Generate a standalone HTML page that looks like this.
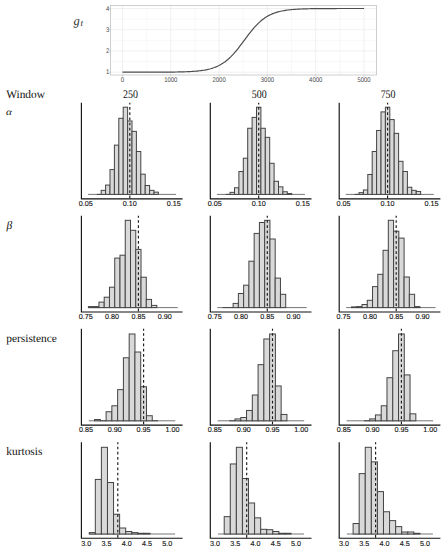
<!DOCTYPE html>
<html><head><meta charset="utf-8"><style>
html,body{margin:0;padding:0;background:#fff;}
body{width:446px;height:550px;overflow:hidden;}
svg{display:block;}
</style></head><body>
<svg width="446" height="550" viewBox="0 0 446 550" text-rendering="geometricPrecision">
<rect width="446" height="550" fill="#fff"/>
<rect x="110.5" y="5.5" width="266.0" height="69.5" fill="#fff"/>
<line x1="146.65" y1="5.5" x2="146.65" y2="75.0" stroke="#f0f0f0" stroke-width="0.5"/>
<line x1="194.95" y1="5.5" x2="194.95" y2="75.0" stroke="#f0f0f0" stroke-width="0.5"/>
<line x1="243.25" y1="5.5" x2="243.25" y2="75.0" stroke="#f0f0f0" stroke-width="0.5"/>
<line x1="291.55" y1="5.5" x2="291.55" y2="75.0" stroke="#f0f0f0" stroke-width="0.5"/>
<line x1="339.85" y1="5.5" x2="339.85" y2="75.0" stroke="#f0f0f0" stroke-width="0.5"/>
<line x1="110.5" y1="61.58" x2="376.5" y2="61.58" stroke="#f0f0f0" stroke-width="0.5"/>
<line x1="110.5" y1="40.35" x2="376.5" y2="40.35" stroke="#f0f0f0" stroke-width="0.5"/>
<line x1="110.5" y1="19.12" x2="376.5" y2="19.12" stroke="#f0f0f0" stroke-width="0.5"/>
<line x1="122.50" y1="5.5" x2="122.50" y2="75.0" stroke="#e6e6e6" stroke-width="0.6"/>
<line x1="170.80" y1="5.5" x2="170.80" y2="75.0" stroke="#e6e6e6" stroke-width="0.6"/>
<line x1="219.10" y1="5.5" x2="219.10" y2="75.0" stroke="#e6e6e6" stroke-width="0.6"/>
<line x1="267.40" y1="5.5" x2="267.40" y2="75.0" stroke="#e6e6e6" stroke-width="0.6"/>
<line x1="315.70" y1="5.5" x2="315.70" y2="75.0" stroke="#e6e6e6" stroke-width="0.6"/>
<line x1="364.00" y1="5.5" x2="364.00" y2="75.0" stroke="#e6e6e6" stroke-width="0.6"/>
<line x1="110.5" y1="72.20" x2="376.5" y2="72.20" stroke="#e6e6e6" stroke-width="0.6"/>
<line x1="110.5" y1="50.97" x2="376.5" y2="50.97" stroke="#e6e6e6" stroke-width="0.6"/>
<line x1="110.5" y1="29.73" x2="376.5" y2="29.73" stroke="#e6e6e6" stroke-width="0.6"/>
<line x1="110.5" y1="8.50" x2="376.5" y2="8.50" stroke="#e6e6e6" stroke-width="0.6"/>
<polyline points="122.50,72.20 123.71,72.20 124.92,72.20 126.12,72.20 127.33,72.20 128.54,72.20 129.75,72.20 130.95,72.20 132.16,72.20 133.37,72.19 134.57,72.19 135.78,72.19 136.99,72.19 138.20,72.19 139.41,72.19 140.61,72.19 141.82,72.19 143.03,72.19 144.24,72.19 145.44,72.19 146.65,72.18 147.86,72.18 149.06,72.18 150.27,72.18 151.48,72.18 152.69,72.17 153.90,72.17 155.10,72.17 156.31,72.16 157.52,72.16 158.72,72.16 159.93,72.15 161.14,72.14 162.35,72.14 163.56,72.13 164.76,72.13 165.97,72.12 167.18,72.11 168.38,72.10 169.59,72.09 170.80,72.08 172.01,72.06 173.22,72.05 174.42,72.03 175.63,72.01 176.84,71.99 178.05,71.97 179.25,71.94 180.46,71.92 181.67,71.89 182.88,71.85 184.08,71.82 185.29,71.77 186.50,71.73 187.70,71.68 188.91,71.62 190.12,71.56 191.33,71.49 192.53,71.42 193.74,71.33 194.95,71.24 196.16,71.14 197.37,71.03 198.57,70.90 199.78,70.77 200.99,70.62 202.19,70.45 203.40,70.27 204.61,70.07 205.82,69.84 207.03,69.60 208.23,69.33 209.44,69.04 210.65,68.72 211.86,68.36 213.06,67.97 214.27,67.55 215.48,67.09 216.69,66.59 217.89,66.04 219.10,65.45 220.31,64.80 221.51,64.10 222.72,63.35 223.93,62.54 225.14,61.67 226.34,60.74 227.55,59.75 228.76,58.69 229.97,57.56 231.18,56.37 232.38,55.12 233.59,53.81 234.80,52.44 236.00,51.02 237.21,49.55 238.42,48.03 239.63,46.48 240.83,44.89 242.04,43.28 243.25,41.66 244.46,40.02 245.67,38.39 246.87,36.77 248.08,35.17 249.29,33.60 250.50,32.06 251.70,30.56 252.91,29.10 254.12,27.70 255.32,26.35 256.53,25.07 257.74,23.84 258.95,22.68 260.15,21.58 261.36,20.55 262.57,19.58 263.78,18.67 264.99,17.83 266.19,17.04 267.40,16.31 268.61,15.63 269.81,15.01 271.02,14.44 272.23,13.91 273.44,13.42 274.64,12.97 275.85,12.57 277.06,12.19 278.27,11.85 279.48,11.54 280.68,11.26 281.89,11.00 283.10,10.76 284.31,10.55 285.51,10.36 286.72,10.18 287.93,10.02 289.13,9.88 290.34,9.74 291.55,9.63 292.76,9.52 293.97,9.42 295.17,9.33 296.38,9.25 297.59,9.18 298.79,9.11 300.00,9.05 301.21,9.00 302.42,8.95 303.62,8.91 304.83,8.87 306.04,8.83 307.25,8.80 308.46,8.77 309.66,8.75 310.87,8.72 312.08,8.70 313.28,8.68 314.49,8.66 315.70,8.65 316.91,8.63 318.12,8.62 319.32,8.61 320.53,8.60 321.74,8.59 322.94,8.58 324.15,8.57 325.36,8.56 326.57,8.56 327.77,8.55 328.98,8.55 330.19,8.54 331.40,8.54 332.61,8.54 333.81,8.53 335.02,8.53 336.23,8.53 337.44,8.52 338.64,8.52 339.85,8.52 341.06,8.52 342.26,8.52 343.47,8.51 344.68,8.51 345.89,8.51 347.10,8.51 348.30,8.51 349.51,8.51 350.72,8.51 351.93,8.51 353.13,8.51 354.34,8.51 355.55,8.51 356.75,8.50 357.96,8.50 359.17,8.50 360.38,8.50 361.59,8.50 362.79,8.50 364.00,8.50" fill="none" stroke="#4d4d4d" stroke-width="1.2"/>
<rect x="110.5" y="5.5" width="266.0" height="69.5" fill="none" stroke="#c2c2c2" stroke-width="0.8"/>
<line x1="109.0" y1="72.20" x2="110.5" y2="72.20" stroke="#b3b3b3" stroke-width="0.6"/>
<text x="109.2" y="74.20" font-family='"Liberation Sans", sans-serif' font-size="6.8" fill="#4d4d4d" text-anchor="end" textLength="3.3" lengthAdjust="spacingAndGlyphs">1</text>
<line x1="109.0" y1="50.97" x2="110.5" y2="50.97" stroke="#b3b3b3" stroke-width="0.6"/>
<text x="109.2" y="52.97" font-family='"Liberation Sans", sans-serif' font-size="6.8" fill="#4d4d4d" text-anchor="end" textLength="3.3" lengthAdjust="spacingAndGlyphs">2</text>
<line x1="109.0" y1="29.73" x2="110.5" y2="29.73" stroke="#b3b3b3" stroke-width="0.6"/>
<text x="109.2" y="31.73" font-family='"Liberation Sans", sans-serif' font-size="6.8" fill="#4d4d4d" text-anchor="end" textLength="3.3" lengthAdjust="spacingAndGlyphs">3</text>
<line x1="109.0" y1="8.50" x2="110.5" y2="8.50" stroke="#b3b3b3" stroke-width="0.6"/>
<text x="109.2" y="10.50" font-family='"Liberation Sans", sans-serif' font-size="6.8" fill="#4d4d4d" text-anchor="end" textLength="3.3" lengthAdjust="spacingAndGlyphs">4</text>
<line x1="122.50" y1="75.0" x2="122.50" y2="76.5" stroke="#b3b3b3" stroke-width="0.6"/>
<text x="122.50" y="81.8" font-family='"Liberation Sans", sans-serif' font-size="6.8" fill="#4d4d4d" text-anchor="middle" textLength="3.30" lengthAdjust="spacingAndGlyphs">0</text>
<line x1="170.80" y1="75.0" x2="170.80" y2="76.5" stroke="#b3b3b3" stroke-width="0.6"/>
<text x="170.80" y="81.8" font-family='"Liberation Sans", sans-serif' font-size="6.8" fill="#4d4d4d" text-anchor="middle" textLength="13.20" lengthAdjust="spacingAndGlyphs">1000</text>
<line x1="219.10" y1="75.0" x2="219.10" y2="76.5" stroke="#b3b3b3" stroke-width="0.6"/>
<text x="219.10" y="81.8" font-family='"Liberation Sans", sans-serif' font-size="6.8" fill="#4d4d4d" text-anchor="middle" textLength="13.20" lengthAdjust="spacingAndGlyphs">2000</text>
<line x1="267.40" y1="75.0" x2="267.40" y2="76.5" stroke="#b3b3b3" stroke-width="0.6"/>
<text x="267.40" y="81.8" font-family='"Liberation Sans", sans-serif' font-size="6.8" fill="#4d4d4d" text-anchor="middle" textLength="13.20" lengthAdjust="spacingAndGlyphs">3000</text>
<line x1="315.70" y1="75.0" x2="315.70" y2="76.5" stroke="#b3b3b3" stroke-width="0.6"/>
<text x="315.70" y="81.8" font-family='"Liberation Sans", sans-serif' font-size="6.8" fill="#4d4d4d" text-anchor="middle" textLength="13.20" lengthAdjust="spacingAndGlyphs">4000</text>
<line x1="364.00" y1="75.0" x2="364.00" y2="76.5" stroke="#b3b3b3" stroke-width="0.6"/>
<text x="364.00" y="81.8" font-family='"Liberation Sans", sans-serif' font-size="6.8" fill="#4d4d4d" text-anchor="middle" textLength="13.20" lengthAdjust="spacingAndGlyphs">5000</text>
<text x="73.6" y="24.8" font-family='"Liberation Serif", serif' font-style="italic" font-size="12.5" fill="#333">g</text>
<text x="80.5" y="26.3" font-family='"Liberation Serif", serif' font-style="italic" font-size="9.2" fill="#333">t</text>
<text x="6.2" y="98" font-family='"Liberation Serif", serif' font-size="11.4" fill="#111">Window</text>
<text x="123.05" y="98.3" font-family='"Liberation Serif", serif' font-size="11.6" fill="#111" textLength="14.9" lengthAdjust="spacingAndGlyphs">250</text>
<text x="251.85" y="98.3" font-family='"Liberation Serif", serif' font-size="11.6" fill="#111" textLength="14.9" lengthAdjust="spacingAndGlyphs">500</text>
<text x="380.65" y="98.3" font-family='"Liberation Serif", serif' font-size="11.6" fill="#111" textLength="14.9" lengthAdjust="spacingAndGlyphs">750</text>
<text x="6.0" y="114.8" font-family='"Liberation Serif", serif' font-style="italic" font-size="9.4" fill="#111" textLength="5.9" lengthAdjust="spacingAndGlyphs">α</text>
<text x="6.4" y="228.6" font-family='"Liberation Serif", serif' font-style="italic" font-size="11.5" fill="#111">β</text>
<text x="6.3" y="341.5" font-family='"Liberation Serif", serif' font-size="11.4" fill="#111">persistence</text>
<text x="6.3" y="454.9" font-family='"Liberation Serif", serif' font-size="11.4" fill="#111">kurtosis</text>
<line x1="88.00" y1="194.40" x2="176.00" y2="194.40" stroke="#666" stroke-width="0.9"/>
<line x1="96.80" y1="194.40" x2="101.20" y2="194.40" stroke="#444" stroke-width="1"/>
<rect x="101.20" y="190.36" width="4.40" height="4.04" fill="#d9d9d9" stroke="#444" stroke-width="1.0"/>
<rect x="105.60" y="185.07" width="4.40" height="9.33" fill="#d9d9d9" stroke="#444" stroke-width="1.0"/>
<rect x="110.00" y="169.59" width="4.40" height="24.81" fill="#d9d9d9" stroke="#444" stroke-width="1.0"/>
<rect x="114.40" y="145.13" width="4.40" height="49.27" fill="#d9d9d9" stroke="#444" stroke-width="1.0"/>
<rect x="118.80" y="118.28" width="4.40" height="76.12" fill="#d9d9d9" stroke="#444" stroke-width="1.0"/>
<rect x="123.20" y="107.20" width="4.40" height="87.20" fill="#d9d9d9" stroke="#444" stroke-width="1.0"/>
<rect x="127.60" y="120.98" width="4.40" height="73.42" fill="#d9d9d9" stroke="#444" stroke-width="1.0"/>
<rect x="132.00" y="131.36" width="4.40" height="63.04" fill="#d9d9d9" stroke="#444" stroke-width="1.0"/>
<rect x="136.40" y="151.52" width="4.40" height="42.88" fill="#d9d9d9" stroke="#444" stroke-width="1.0"/>
<rect x="140.80" y="174.18" width="4.40" height="20.22" fill="#d9d9d9" stroke="#444" stroke-width="1.0"/>
<rect x="145.20" y="185.47" width="4.40" height="8.93" fill="#d9d9d9" stroke="#444" stroke-width="1.0"/>
<rect x="149.60" y="190.36" width="4.40" height="4.04" fill="#d9d9d9" stroke="#444" stroke-width="1.0"/>
<rect x="154.00" y="192.15" width="4.40" height="2.25" fill="#d9d9d9" stroke="#444" stroke-width="1.0"/>
<line x1="129.80" y1="102.70" x2="129.80" y2="198.90" stroke="#1a1a1a" stroke-width="1.15" stroke-dasharray="2.7 2.5" stroke-dashoffset="0.85"/>
<polyline points="81.40,102.70 81.40,198.90 182.60,198.90" fill="none" stroke="#111" stroke-width="1.15"/>
<text x="85.80" y="206" font-family='"Liberation Sans", sans-serif' font-size="7.2" fill="#111" stroke="#111" stroke-width="0.12" text-anchor="middle">0.05</text>
<text x="129.80" y="206" font-family='"Liberation Sans", sans-serif' font-size="7.2" fill="#111" stroke="#111" stroke-width="0.12" text-anchor="middle">0.10</text>
<text x="173.80" y="206" font-family='"Liberation Sans", sans-serif' font-size="7.2" fill="#111" stroke="#111" stroke-width="0.12" text-anchor="middle">0.15</text>
<line x1="216.90" y1="194.40" x2="304.90" y2="194.40" stroke="#666" stroke-width="0.9"/>
<line x1="225.70" y1="194.40" x2="230.10" y2="194.40" stroke="#444" stroke-width="1"/>
<rect x="230.10" y="192.35" width="4.40" height="2.05" fill="#d9d9d9" stroke="#444" stroke-width="1.0"/>
<rect x="234.50" y="187.76" width="4.40" height="6.64" fill="#d9d9d9" stroke="#444" stroke-width="1.0"/>
<rect x="238.90" y="171.49" width="4.40" height="22.91" fill="#d9d9d9" stroke="#444" stroke-width="1.0"/>
<rect x="243.30" y="158.21" width="4.40" height="36.19" fill="#d9d9d9" stroke="#444" stroke-width="1.0"/>
<rect x="247.70" y="128.26" width="4.40" height="66.14" fill="#d9d9d9" stroke="#444" stroke-width="1.0"/>
<rect x="252.10" y="117.38" width="4.40" height="77.02" fill="#d9d9d9" stroke="#444" stroke-width="1.0"/>
<rect x="256.50" y="107.20" width="4.40" height="87.20" fill="#d9d9d9" stroke="#444" stroke-width="1.0"/>
<rect x="260.90" y="128.26" width="4.40" height="66.14" fill="#d9d9d9" stroke="#444" stroke-width="1.0"/>
<rect x="265.30" y="137.35" width="4.40" height="57.05" fill="#d9d9d9" stroke="#444" stroke-width="1.0"/>
<rect x="269.70" y="163.30" width="4.40" height="31.10" fill="#d9d9d9" stroke="#444" stroke-width="1.0"/>
<rect x="274.10" y="181.27" width="4.40" height="13.13" fill="#d9d9d9" stroke="#444" stroke-width="1.0"/>
<rect x="278.50" y="186.86" width="4.40" height="7.54" fill="#d9d9d9" stroke="#444" stroke-width="1.0"/>
<rect x="282.90" y="191.75" width="4.40" height="2.65" fill="#d9d9d9" stroke="#444" stroke-width="1.0"/>
<rect x="287.30" y="193.55" width="4.40" height="0.85" fill="#d9d9d9" stroke="#444" stroke-width="1.0"/>
<line x1="258.70" y1="102.70" x2="258.70" y2="198.90" stroke="#1a1a1a" stroke-width="1.15" stroke-dasharray="2.7 2.5" stroke-dashoffset="0.85"/>
<polyline points="210.30,102.70 210.30,198.90 311.50,198.90" fill="none" stroke="#111" stroke-width="1.15"/>
<text x="214.70" y="206" font-family='"Liberation Sans", sans-serif' font-size="7.2" fill="#111" stroke="#111" stroke-width="0.12" text-anchor="middle">0.05</text>
<text x="258.70" y="206" font-family='"Liberation Sans", sans-serif' font-size="7.2" fill="#111" stroke="#111" stroke-width="0.12" text-anchor="middle">0.10</text>
<text x="302.70" y="206" font-family='"Liberation Sans", sans-serif' font-size="7.2" fill="#111" stroke="#111" stroke-width="0.12" text-anchor="middle">0.15</text>
<line x1="345.80" y1="194.40" x2="433.80" y2="194.40" stroke="#666" stroke-width="0.9"/>
<line x1="354.60" y1="194.40" x2="359.00" y2="194.40" stroke="#444" stroke-width="1"/>
<rect x="359.00" y="192.65" width="4.40" height="1.75" fill="#d9d9d9" stroke="#444" stroke-width="1.0"/>
<rect x="363.40" y="189.96" width="4.40" height="4.44" fill="#d9d9d9" stroke="#444" stroke-width="1.0"/>
<rect x="367.80" y="174.48" width="4.40" height="19.92" fill="#d9d9d9" stroke="#444" stroke-width="1.0"/>
<rect x="372.20" y="151.52" width="4.40" height="42.88" fill="#d9d9d9" stroke="#444" stroke-width="1.0"/>
<rect x="376.60" y="130.46" width="4.40" height="63.94" fill="#d9d9d9" stroke="#444" stroke-width="1.0"/>
<rect x="381.00" y="111.89" width="4.40" height="82.51" fill="#d9d9d9" stroke="#444" stroke-width="1.0"/>
<rect x="385.40" y="107.20" width="4.40" height="87.20" fill="#d9d9d9" stroke="#444" stroke-width="1.0"/>
<rect x="389.80" y="119.58" width="4.40" height="74.82" fill="#d9d9d9" stroke="#444" stroke-width="1.0"/>
<rect x="394.20" y="133.36" width="4.40" height="61.04" fill="#d9d9d9" stroke="#444" stroke-width="1.0"/>
<rect x="398.60" y="161.31" width="4.40" height="33.09" fill="#d9d9d9" stroke="#444" stroke-width="1.0"/>
<rect x="403.00" y="171.49" width="4.40" height="22.91" fill="#d9d9d9" stroke="#444" stroke-width="1.0"/>
<rect x="407.40" y="187.26" width="4.40" height="7.14" fill="#d9d9d9" stroke="#444" stroke-width="1.0"/>
<rect x="411.80" y="190.36" width="4.40" height="4.04" fill="#d9d9d9" stroke="#444" stroke-width="1.0"/>
<rect x="416.20" y="191.46" width="4.40" height="2.94" fill="#d9d9d9" stroke="#444" stroke-width="1.0"/>
<line x1="387.60" y1="102.70" x2="387.60" y2="198.90" stroke="#1a1a1a" stroke-width="1.15" stroke-dasharray="2.7 2.5" stroke-dashoffset="0.85"/>
<polyline points="339.20,102.70 339.20,198.90 440.40,198.90" fill="none" stroke="#111" stroke-width="1.15"/>
<text x="343.60" y="206" font-family='"Liberation Sans", sans-serif' font-size="7.2" fill="#111" stroke="#111" stroke-width="0.12" text-anchor="middle">0.05</text>
<text x="387.60" y="206" font-family='"Liberation Sans", sans-serif' font-size="7.2" fill="#111" stroke="#111" stroke-width="0.12" text-anchor="middle">0.10</text>
<text x="431.60" y="206" font-family='"Liberation Sans", sans-serif' font-size="7.2" fill="#111" stroke="#111" stroke-width="0.12" text-anchor="middle">0.15</text>
<line x1="88.40" y1="307.60" x2="177.80" y2="307.60" stroke="#666" stroke-width="0.9"/>
<rect x="88.43" y="306.60" width="5.26" height="1.00" fill="#d9d9d9" stroke="#444" stroke-width="1.0"/>
<rect x="93.69" y="306.60" width="5.26" height="1.00" fill="#d9d9d9" stroke="#444" stroke-width="1.0"/>
<rect x="98.95" y="302.10" width="5.26" height="5.50" fill="#d9d9d9" stroke="#444" stroke-width="1.0"/>
<rect x="104.21" y="297.20" width="5.26" height="10.40" fill="#d9d9d9" stroke="#444" stroke-width="1.0"/>
<rect x="109.47" y="287.20" width="5.26" height="20.40" fill="#d9d9d9" stroke="#444" stroke-width="1.0"/>
<rect x="114.73" y="258.10" width="5.26" height="49.50" fill="#d9d9d9" stroke="#444" stroke-width="1.0"/>
<rect x="119.99" y="255.20" width="5.26" height="52.40" fill="#d9d9d9" stroke="#444" stroke-width="1.0"/>
<rect x="125.25" y="220.30" width="5.26" height="87.30" fill="#d9d9d9" stroke="#444" stroke-width="1.0"/>
<rect x="130.51" y="230.30" width="5.26" height="77.30" fill="#d9d9d9" stroke="#444" stroke-width="1.0"/>
<rect x="135.77" y="249.40" width="5.26" height="58.20" fill="#d9d9d9" stroke="#444" stroke-width="1.0"/>
<rect x="141.03" y="277.20" width="5.26" height="30.40" fill="#d9d9d9" stroke="#444" stroke-width="1.0"/>
<rect x="146.29" y="299.40" width="5.26" height="8.20" fill="#d9d9d9" stroke="#444" stroke-width="1.0"/>
<rect x="151.55" y="305.40" width="5.26" height="2.20" fill="#d9d9d9" stroke="#444" stroke-width="1.0"/>
<line x1="138.40" y1="215.80" x2="138.40" y2="312.00" stroke="#1a1a1a" stroke-width="1.15" stroke-dasharray="2.7 2.5" stroke-dashoffset="0.85"/>
<polyline points="81.40,215.80 81.40,312.00 182.60,312.00" fill="none" stroke="#111" stroke-width="1.15"/>
<text x="85.80" y="319" font-family='"Liberation Sans", sans-serif' font-size="7.2" fill="#111" stroke="#111" stroke-width="0.12" text-anchor="middle">0.75</text>
<text x="112.10" y="319" font-family='"Liberation Sans", sans-serif' font-size="7.2" fill="#111" stroke="#111" stroke-width="0.12" text-anchor="middle">0.80</text>
<text x="138.40" y="319" font-family='"Liberation Sans", sans-serif' font-size="7.2" fill="#111" stroke="#111" stroke-width="0.12" text-anchor="middle">0.85</text>
<text x="164.70" y="319" font-family='"Liberation Sans", sans-serif' font-size="7.2" fill="#111" stroke="#111" stroke-width="0.12" text-anchor="middle">0.90</text>
<line x1="217.30" y1="307.60" x2="306.70" y2="307.60" stroke="#666" stroke-width="0.9"/>
<line x1="222.59" y1="307.60" x2="227.85" y2="307.60" stroke="#444" stroke-width="1"/>
<line x1="227.85" y1="307.60" x2="233.11" y2="307.60" stroke="#444" stroke-width="1"/>
<rect x="233.11" y="303.40" width="5.26" height="4.20" fill="#d9d9d9" stroke="#444" stroke-width="1.0"/>
<rect x="238.37" y="293.50" width="5.26" height="14.10" fill="#d9d9d9" stroke="#444" stroke-width="1.0"/>
<rect x="243.63" y="285.20" width="5.26" height="22.40" fill="#d9d9d9" stroke="#444" stroke-width="1.0"/>
<rect x="248.89" y="261.20" width="5.26" height="46.40" fill="#d9d9d9" stroke="#444" stroke-width="1.0"/>
<rect x="254.15" y="233.40" width="5.26" height="74.20" fill="#d9d9d9" stroke="#444" stroke-width="1.0"/>
<rect x="259.41" y="222.50" width="5.26" height="85.10" fill="#d9d9d9" stroke="#444" stroke-width="1.0"/>
<rect x="264.67" y="220.30" width="5.26" height="87.30" fill="#d9d9d9" stroke="#444" stroke-width="1.0"/>
<rect x="269.93" y="239.00" width="5.26" height="68.60" fill="#d9d9d9" stroke="#444" stroke-width="1.0"/>
<rect x="275.19" y="278.10" width="5.26" height="29.50" fill="#d9d9d9" stroke="#444" stroke-width="1.0"/>
<rect x="280.45" y="294.30" width="5.26" height="13.30" fill="#d9d9d9" stroke="#444" stroke-width="1.0"/>
<line x1="267.30" y1="215.80" x2="267.30" y2="312.00" stroke="#1a1a1a" stroke-width="1.15" stroke-dasharray="2.7 2.5" stroke-dashoffset="0.85"/>
<polyline points="210.30,215.80 210.30,312.00 311.50,312.00" fill="none" stroke="#111" stroke-width="1.15"/>
<text x="214.70" y="319" font-family='"Liberation Sans", sans-serif' font-size="7.2" fill="#111" stroke="#111" stroke-width="0.12" text-anchor="middle">0.75</text>
<text x="241.00" y="319" font-family='"Liberation Sans", sans-serif' font-size="7.2" fill="#111" stroke="#111" stroke-width="0.12" text-anchor="middle">0.80</text>
<text x="267.30" y="319" font-family='"Liberation Sans", sans-serif' font-size="7.2" fill="#111" stroke="#111" stroke-width="0.12" text-anchor="middle">0.85</text>
<text x="293.60" y="319" font-family='"Liberation Sans", sans-serif' font-size="7.2" fill="#111" stroke="#111" stroke-width="0.12" text-anchor="middle">0.90</text>
<line x1="346.20" y1="307.60" x2="435.60" y2="307.60" stroke="#666" stroke-width="0.9"/>
<rect x="351.49" y="306.90" width="5.26" height="0.70" fill="#d9d9d9" stroke="#444" stroke-width="1.0"/>
<rect x="356.75" y="306.60" width="5.26" height="1.00" fill="#d9d9d9" stroke="#444" stroke-width="1.0"/>
<rect x="362.01" y="304.50" width="5.26" height="3.10" fill="#d9d9d9" stroke="#444" stroke-width="1.0"/>
<rect x="367.27" y="300.30" width="5.26" height="7.30" fill="#d9d9d9" stroke="#444" stroke-width="1.0"/>
<rect x="372.53" y="286.60" width="5.26" height="21.00" fill="#d9d9d9" stroke="#444" stroke-width="1.0"/>
<rect x="377.79" y="274.30" width="5.26" height="33.30" fill="#d9d9d9" stroke="#444" stroke-width="1.0"/>
<rect x="383.05" y="250.30" width="5.26" height="57.30" fill="#d9d9d9" stroke="#444" stroke-width="1.0"/>
<rect x="388.31" y="220.30" width="5.26" height="87.30" fill="#d9d9d9" stroke="#444" stroke-width="1.0"/>
<rect x="393.57" y="231.20" width="5.26" height="76.40" fill="#d9d9d9" stroke="#444" stroke-width="1.0"/>
<rect x="398.83" y="238.10" width="5.26" height="69.50" fill="#d9d9d9" stroke="#444" stroke-width="1.0"/>
<rect x="404.09" y="277.00" width="5.26" height="30.60" fill="#d9d9d9" stroke="#444" stroke-width="1.0"/>
<rect x="409.35" y="294.30" width="5.26" height="13.30" fill="#d9d9d9" stroke="#444" stroke-width="1.0"/>
<rect x="414.61" y="306.60" width="5.26" height="1.00" fill="#d9d9d9" stroke="#444" stroke-width="1.0"/>
<line x1="396.20" y1="215.80" x2="396.20" y2="312.00" stroke="#1a1a1a" stroke-width="1.15" stroke-dasharray="2.7 2.5" stroke-dashoffset="0.85"/>
<polyline points="339.20,215.80 339.20,312.00 440.40,312.00" fill="none" stroke="#111" stroke-width="1.15"/>
<text x="343.60" y="319" font-family='"Liberation Sans", sans-serif' font-size="7.2" fill="#111" stroke="#111" stroke-width="0.12" text-anchor="middle">0.75</text>
<text x="369.90" y="319" font-family='"Liberation Sans", sans-serif' font-size="7.2" fill="#111" stroke="#111" stroke-width="0.12" text-anchor="middle">0.80</text>
<text x="396.20" y="319" font-family='"Liberation Sans", sans-serif' font-size="7.2" fill="#111" stroke="#111" stroke-width="0.12" text-anchor="middle">0.85</text>
<text x="422.50" y="319" font-family='"Liberation Sans", sans-serif' font-size="7.2" fill="#111" stroke="#111" stroke-width="0.12" text-anchor="middle">0.90</text>
<line x1="88.80" y1="420.80" x2="175.30" y2="420.80" stroke="#666" stroke-width="0.9"/>
<rect x="94.56" y="419.51" width="5.77" height="1.29" fill="#d9d9d9" stroke="#444" stroke-width="1.0"/>
<line x1="100.33" y1="420.80" x2="106.10" y2="420.80" stroke="#444" stroke-width="1"/>
<rect x="106.10" y="411.74" width="5.77" height="9.06" fill="#d9d9d9" stroke="#444" stroke-width="1.0"/>
<rect x="111.87" y="405.77" width="5.77" height="15.03" fill="#d9d9d9" stroke="#444" stroke-width="1.0"/>
<rect x="117.64" y="389.64" width="5.77" height="31.16" fill="#d9d9d9" stroke="#444" stroke-width="1.0"/>
<rect x="123.41" y="357.79" width="5.77" height="63.01" fill="#d9d9d9" stroke="#444" stroke-width="1.0"/>
<rect x="129.18" y="334.00" width="5.77" height="86.80" fill="#d9d9d9" stroke="#444" stroke-width="1.0"/>
<rect x="134.94" y="352.02" width="5.77" height="68.78" fill="#d9d9d9" stroke="#444" stroke-width="1.0"/>
<rect x="140.72" y="386.76" width="5.77" height="34.04" fill="#d9d9d9" stroke="#444" stroke-width="1.0"/>
<rect x="146.48" y="415.72" width="5.77" height="5.08" fill="#d9d9d9" stroke="#444" stroke-width="1.0"/>
<line x1="152.25" y1="420.80" x2="158.03" y2="420.80" stroke="#444" stroke-width="1"/>
<line x1="143.60" y1="328.80" x2="143.60" y2="425.10" stroke="#1a1a1a" stroke-width="1.15" stroke-dasharray="2.7 2.5" stroke-dashoffset="0.85"/>
<polyline points="81.40,328.80 81.40,425.10 182.60,425.10" fill="none" stroke="#111" stroke-width="1.15"/>
<text x="85.90" y="432" font-family='"Liberation Sans", sans-serif' font-size="7.2" fill="#111" stroke="#111" stroke-width="0.12" text-anchor="middle">0.85</text>
<text x="114.75" y="432" font-family='"Liberation Sans", sans-serif' font-size="7.2" fill="#111" stroke="#111" stroke-width="0.12" text-anchor="middle">0.90</text>
<text x="143.60" y="432" font-family='"Liberation Sans", sans-serif' font-size="7.2" fill="#111" stroke="#111" stroke-width="0.12" text-anchor="middle">0.95</text>
<text x="172.45" y="432" font-family='"Liberation Sans", sans-serif' font-size="7.2" fill="#111" stroke="#111" stroke-width="0.12" text-anchor="middle">1.00</text>
<line x1="217.70" y1="420.80" x2="304.20" y2="420.80" stroke="#666" stroke-width="0.9"/>
<line x1="229.23" y1="420.80" x2="235.00" y2="420.80" stroke="#444" stroke-width="1"/>
<rect x="235.00" y="418.91" width="5.77" height="1.89" fill="#d9d9d9" stroke="#444" stroke-width="1.0"/>
<rect x="240.77" y="417.52" width="5.77" height="3.28" fill="#d9d9d9" stroke="#444" stroke-width="1.0"/>
<rect x="246.54" y="410.45" width="5.77" height="10.35" fill="#d9d9d9" stroke="#444" stroke-width="1.0"/>
<rect x="252.31" y="395.02" width="5.77" height="25.78" fill="#d9d9d9" stroke="#444" stroke-width="1.0"/>
<rect x="258.08" y="364.66" width="5.77" height="56.14" fill="#d9d9d9" stroke="#444" stroke-width="1.0"/>
<rect x="263.85" y="338.98" width="5.77" height="81.82" fill="#d9d9d9" stroke="#444" stroke-width="1.0"/>
<rect x="269.62" y="334.00" width="5.77" height="86.80" fill="#d9d9d9" stroke="#444" stroke-width="1.0"/>
<rect x="275.38" y="385.96" width="5.77" height="34.84" fill="#d9d9d9" stroke="#444" stroke-width="1.0"/>
<rect x="281.15" y="414.43" width="5.77" height="6.37" fill="#d9d9d9" stroke="#444" stroke-width="1.0"/>
<line x1="272.50" y1="328.80" x2="272.50" y2="425.10" stroke="#1a1a1a" stroke-width="1.15" stroke-dasharray="2.7 2.5" stroke-dashoffset="0.85"/>
<polyline points="210.30,328.80 210.30,425.10 311.50,425.10" fill="none" stroke="#111" stroke-width="1.15"/>
<text x="214.80" y="432" font-family='"Liberation Sans", sans-serif' font-size="7.2" fill="#111" stroke="#111" stroke-width="0.12" text-anchor="middle">0.85</text>
<text x="243.65" y="432" font-family='"Liberation Sans", sans-serif' font-size="7.2" fill="#111" stroke="#111" stroke-width="0.12" text-anchor="middle">0.90</text>
<text x="272.50" y="432" font-family='"Liberation Sans", sans-serif' font-size="7.2" fill="#111" stroke="#111" stroke-width="0.12" text-anchor="middle">0.95</text>
<text x="301.35" y="432" font-family='"Liberation Sans", sans-serif' font-size="7.2" fill="#111" stroke="#111" stroke-width="0.12" text-anchor="middle">1.00</text>
<line x1="346.60" y1="420.80" x2="433.10" y2="420.80" stroke="#666" stroke-width="0.9"/>
<line x1="363.90" y1="420.80" x2="369.67" y2="420.80" stroke="#444" stroke-width="1"/>
<rect x="369.67" y="418.91" width="5.77" height="1.89" fill="#d9d9d9" stroke="#444" stroke-width="1.0"/>
<rect x="375.44" y="414.93" width="5.77" height="5.87" fill="#d9d9d9" stroke="#444" stroke-width="1.0"/>
<rect x="381.21" y="405.77" width="5.77" height="15.03" fill="#d9d9d9" stroke="#444" stroke-width="1.0"/>
<rect x="386.98" y="377.70" width="5.77" height="43.10" fill="#d9d9d9" stroke="#444" stroke-width="1.0"/>
<rect x="392.75" y="350.72" width="5.77" height="70.08" fill="#d9d9d9" stroke="#444" stroke-width="1.0"/>
<rect x="398.51" y="334.00" width="5.77" height="86.80" fill="#d9d9d9" stroke="#444" stroke-width="1.0"/>
<rect x="404.28" y="374.91" width="5.77" height="45.89" fill="#d9d9d9" stroke="#444" stroke-width="1.0"/>
<rect x="410.06" y="413.83" width="5.77" height="6.97" fill="#d9d9d9" stroke="#444" stroke-width="1.0"/>
<line x1="401.40" y1="328.80" x2="401.40" y2="425.10" stroke="#1a1a1a" stroke-width="1.15" stroke-dasharray="2.7 2.5" stroke-dashoffset="0.85"/>
<polyline points="339.20,328.80 339.20,425.10 440.40,425.10" fill="none" stroke="#111" stroke-width="1.15"/>
<text x="343.70" y="432" font-family='"Liberation Sans", sans-serif' font-size="7.2" fill="#111" stroke="#111" stroke-width="0.12" text-anchor="middle">0.85</text>
<text x="372.55" y="432" font-family='"Liberation Sans", sans-serif' font-size="7.2" fill="#111" stroke="#111" stroke-width="0.12" text-anchor="middle">0.90</text>
<text x="401.40" y="432" font-family='"Liberation Sans", sans-serif' font-size="7.2" fill="#111" stroke="#111" stroke-width="0.12" text-anchor="middle">0.95</text>
<text x="430.25" y="432" font-family='"Liberation Sans", sans-serif' font-size="7.2" fill="#111" stroke="#111" stroke-width="0.12" text-anchor="middle">1.00</text>
<line x1="89.10" y1="534.00" x2="175.10" y2="534.00" stroke="#666" stroke-width="0.9"/>
<rect x="89.24" y="532.60" width="6.08" height="1.40" fill="#d9d9d9" stroke="#444" stroke-width="1.0"/>
<rect x="95.31" y="479.43" width="6.08" height="54.57" fill="#d9d9d9" stroke="#444" stroke-width="1.0"/>
<rect x="101.39" y="447.30" width="6.08" height="86.70" fill="#d9d9d9" stroke="#444" stroke-width="1.0"/>
<rect x="107.46" y="482.52" width="6.08" height="51.48" fill="#d9d9d9" stroke="#444" stroke-width="1.0"/>
<rect x="113.54" y="514.25" width="6.08" height="19.75" fill="#d9d9d9" stroke="#444" stroke-width="1.0"/>
<rect x="119.61" y="528.01" width="6.08" height="5.99" fill="#d9d9d9" stroke="#444" stroke-width="1.0"/>
<rect x="125.69" y="531.51" width="6.08" height="2.49" fill="#d9d9d9" stroke="#444" stroke-width="1.0"/>
<rect x="131.76" y="532.60" width="6.08" height="1.40" fill="#d9d9d9" stroke="#444" stroke-width="1.0"/>
<rect x="137.84" y="533.30" width="6.08" height="0.70" fill="#d9d9d9" stroke="#444" stroke-width="1.0"/>
<rect x="143.91" y="533.30" width="6.08" height="0.70" fill="#d9d9d9" stroke="#444" stroke-width="1.0"/>
<line x1="117.79" y1="442.30" x2="117.79" y2="538.20" stroke="#1a1a1a" stroke-width="1.15" stroke-dasharray="2.7 2.5" stroke-dashoffset="0.85"/>
<polyline points="81.40,442.30 81.40,538.20 182.60,538.20" fill="none" stroke="#111" stroke-width="1.15"/>
<text x="86.20" y="546" font-family='"Liberation Sans", sans-serif' font-size="7.2" fill="#111" stroke="#111" stroke-width="0.12" text-anchor="middle">3.0</text>
<text x="106.45" y="546" font-family='"Liberation Sans", sans-serif' font-size="7.2" fill="#111" stroke="#111" stroke-width="0.12" text-anchor="middle">3.5</text>
<text x="126.70" y="546" font-family='"Liberation Sans", sans-serif' font-size="7.2" fill="#111" stroke="#111" stroke-width="0.12" text-anchor="middle">4.0</text>
<text x="146.95" y="546" font-family='"Liberation Sans", sans-serif' font-size="7.2" fill="#111" stroke="#111" stroke-width="0.12" text-anchor="middle">4.5</text>
<text x="167.20" y="546" font-family='"Liberation Sans", sans-serif' font-size="7.2" fill="#111" stroke="#111" stroke-width="0.12" text-anchor="middle">5.0</text>
<line x1="218.00" y1="534.00" x2="304.00" y2="534.00" stroke="#666" stroke-width="0.9"/>
<rect x="224.21" y="516.64" width="6.08" height="17.36" fill="#d9d9d9" stroke="#444" stroke-width="1.0"/>
<rect x="230.29" y="463.96" width="6.07" height="70.04" fill="#d9d9d9" stroke="#444" stroke-width="1.0"/>
<rect x="236.36" y="447.30" width="6.07" height="86.70" fill="#d9d9d9" stroke="#444" stroke-width="1.0"/>
<rect x="242.44" y="478.53" width="6.08" height="55.47" fill="#d9d9d9" stroke="#444" stroke-width="1.0"/>
<rect x="248.51" y="502.97" width="6.08" height="31.03" fill="#d9d9d9" stroke="#444" stroke-width="1.0"/>
<rect x="254.59" y="517.84" width="6.08" height="16.16" fill="#d9d9d9" stroke="#444" stroke-width="1.0"/>
<rect x="260.66" y="529.31" width="6.08" height="4.69" fill="#d9d9d9" stroke="#444" stroke-width="1.0"/>
<rect x="266.74" y="529.71" width="6.08" height="4.29" fill="#d9d9d9" stroke="#444" stroke-width="1.0"/>
<rect x="272.81" y="531.51" width="6.08" height="2.49" fill="#d9d9d9" stroke="#444" stroke-width="1.0"/>
<rect x="278.89" y="533.30" width="6.07" height="0.70" fill="#d9d9d9" stroke="#444" stroke-width="1.0"/>
<rect x="284.96" y="533.30" width="6.08" height="0.70" fill="#d9d9d9" stroke="#444" stroke-width="1.0"/>
<line x1="246.69" y1="442.30" x2="246.69" y2="538.20" stroke="#1a1a1a" stroke-width="1.15" stroke-dasharray="2.7 2.5" stroke-dashoffset="0.85"/>
<polyline points="210.30,442.30 210.30,538.20 311.50,538.20" fill="none" stroke="#111" stroke-width="1.15"/>
<text x="215.10" y="546" font-family='"Liberation Sans", sans-serif' font-size="7.2" fill="#111" stroke="#111" stroke-width="0.12" text-anchor="middle">3.0</text>
<text x="235.35" y="546" font-family='"Liberation Sans", sans-serif' font-size="7.2" fill="#111" stroke="#111" stroke-width="0.12" text-anchor="middle">3.5</text>
<text x="255.60" y="546" font-family='"Liberation Sans", sans-serif' font-size="7.2" fill="#111" stroke="#111" stroke-width="0.12" text-anchor="middle">4.0</text>
<text x="275.85" y="546" font-family='"Liberation Sans", sans-serif' font-size="7.2" fill="#111" stroke="#111" stroke-width="0.12" text-anchor="middle">4.5</text>
<text x="296.10" y="546" font-family='"Liberation Sans", sans-serif' font-size="7.2" fill="#111" stroke="#111" stroke-width="0.12" text-anchor="middle">5.0</text>
<line x1="346.90" y1="534.00" x2="432.90" y2="534.00" stroke="#666" stroke-width="0.9"/>
<rect x="353.11" y="523.52" width="6.07" height="10.48" fill="#d9d9d9" stroke="#444" stroke-width="1.0"/>
<rect x="359.19" y="473.64" width="6.08" height="60.36" fill="#d9d9d9" stroke="#444" stroke-width="1.0"/>
<rect x="365.26" y="447.30" width="6.07" height="86.70" fill="#d9d9d9" stroke="#444" stroke-width="1.0"/>
<rect x="371.34" y="461.87" width="6.08" height="72.13" fill="#d9d9d9" stroke="#444" stroke-width="1.0"/>
<rect x="377.41" y="491.60" width="6.07" height="42.40" fill="#d9d9d9" stroke="#444" stroke-width="1.0"/>
<rect x="383.49" y="511.75" width="6.07" height="22.25" fill="#d9d9d9" stroke="#444" stroke-width="1.0"/>
<rect x="389.56" y="520.63" width="6.08" height="13.37" fill="#d9d9d9" stroke="#444" stroke-width="1.0"/>
<rect x="395.64" y="526.62" width="6.07" height="7.38" fill="#d9d9d9" stroke="#444" stroke-width="1.0"/>
<rect x="401.71" y="532.00" width="6.08" height="2.00" fill="#d9d9d9" stroke="#444" stroke-width="1.0"/>
<rect x="407.79" y="532.00" width="6.08" height="2.00" fill="#d9d9d9" stroke="#444" stroke-width="1.0"/>
<rect x="413.86" y="533.30" width="6.07" height="0.70" fill="#d9d9d9" stroke="#444" stroke-width="1.0"/>
<line x1="375.59" y1="442.30" x2="375.59" y2="538.20" stroke="#1a1a1a" stroke-width="1.15" stroke-dasharray="2.7 2.5" stroke-dashoffset="0.85"/>
<polyline points="339.20,442.30 339.20,538.20 440.40,538.20" fill="none" stroke="#111" stroke-width="1.15"/>
<text x="344.00" y="546" font-family='"Liberation Sans", sans-serif' font-size="7.2" fill="#111" stroke="#111" stroke-width="0.12" text-anchor="middle">3.0</text>
<text x="364.25" y="546" font-family='"Liberation Sans", sans-serif' font-size="7.2" fill="#111" stroke="#111" stroke-width="0.12" text-anchor="middle">3.5</text>
<text x="384.50" y="546" font-family='"Liberation Sans", sans-serif' font-size="7.2" fill="#111" stroke="#111" stroke-width="0.12" text-anchor="middle">4.0</text>
<text x="404.75" y="546" font-family='"Liberation Sans", sans-serif' font-size="7.2" fill="#111" stroke="#111" stroke-width="0.12" text-anchor="middle">4.5</text>
<text x="425.00" y="546" font-family='"Liberation Sans", sans-serif' font-size="7.2" fill="#111" stroke="#111" stroke-width="0.12" text-anchor="middle">5.0</text>
</svg>
</body></html>
